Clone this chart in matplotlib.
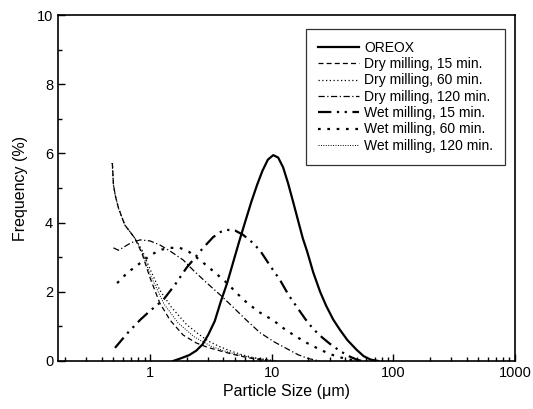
import matplotlib
matplotlib.use('Agg')
import matplotlib.pyplot as plt
from matplotlib.ticker import LogLocator, MultipleLocator, FixedLocator

plt.rcParams['font.family'] = ['Liberation Sans', 'DejaVu Sans']

# values (size in um, frequency in %)
oreox_x = [1.55, 1.8, 2.1, 2.4, 2.7, 3.0, 3.4, 3.8, 4.3, 4.8, 5.4, 6.0, 6.8, 7.6, 8.4, 9.3, 10.3,
           11.3, 12.4, 13.6, 15.0, 16.5, 18.0, 19.5, 22.0, 25.0, 28.0, 32.0, 36.4, 42.0, 50.0, 57.0, 65.0, 75.0]
oreox_y = [0.0, 0.08, 0.17, 0.30, 0.48, 0.75, 1.15, 1.70, 2.25, 2.83, 3.45, 3.98, 4.60, 5.10, 5.50, 5.82, 5.95,
           5.88, 5.60, 5.15, 4.60, 4.05, 3.55, 3.18, 2.55, 2.00, 1.60, 1.20, 0.90, 0.60, 0.32, 0.14, 0.04, 0.0]

dry15_x = [0.49, 0.5, 0.52, 0.55, 0.62, 0.75, 0.86, 1.0, 1.2, 1.46, 1.87, 2.4, 2.94, 3.7, 4.5, 5.4, 6.3, 7.5, 9.0]
dry15_y = [5.72, 5.09, 4.75, 4.42, 3.93, 3.55, 3.10, 2.40, 1.68, 1.18, 0.75, 0.52, 0.40, 0.30, 0.22, 0.15, 0.10, 0.05, 0.01]

dry60_x = [0.49, 0.5, 0.52, 0.55, 0.62, 0.75, 0.86, 1.0, 1.2, 1.5, 2.0, 2.5, 3.0, 3.7, 4.5, 5.6, 7.0, 8.5, 10.0]
dry60_y = [5.72, 5.09, 4.75, 4.42, 3.93, 3.55, 3.20, 2.65, 2.05, 1.55, 1.05, 0.78, 0.58, 0.42, 0.30, 0.19, 0.10, 0.05, 0.01]

dry120_x = [0.5, 0.55, 0.6, 0.7, 0.83, 1.0, 1.21, 1.5, 1.87, 2.3, 2.94, 3.8, 4.8, 6.2, 8.0, 10.5, 13.4, 16.5, 20.0, 25.0]
dry120_y = [3.27, 3.20, 3.28, 3.42, 3.50, 3.47, 3.35, 3.15, 2.92, 2.60, 2.25, 1.90, 1.56, 1.18, 0.82, 0.55, 0.35, 0.18, 0.07, 0.0]

wet15_x = [0.515, 0.65, 0.83, 1.0, 1.28, 1.6, 2.0, 2.26, 2.7, 3.3, 3.8, 4.3, 5.0, 5.8, 6.8, 8.0, 9.5,
           11.7, 13.8, 16.1, 19.0, 22.0, 26.0, 30.0, 36.0, 43.0, 50.0, 55.0]
wet15_y = [0.38, 0.80, 1.19, 1.45, 1.76, 2.20, 2.70, 2.92, 3.25, 3.58, 3.73, 3.79, 3.77, 3.65, 3.45, 3.20, 2.80,
           2.34, 1.90, 1.56, 1.20, 0.92, 0.68, 0.50, 0.30, 0.14, 0.04, 0.0]

wet60_x = [0.536, 0.65, 0.83, 1.0, 1.21, 1.45, 1.76, 2.1, 2.57, 3.3, 4.3, 5.2, 6.27, 8.0, 10.25, 13.0, 16.0,
           19.5, 24.0, 30.0, 37.0, 44.0, 50.0]
wet60_y = [2.25, 2.55, 2.83, 3.05, 3.21, 3.27, 3.27, 3.15, 2.92, 2.60, 2.25, 1.95, 1.68, 1.40, 1.18, 0.90, 0.70,
           0.52, 0.36, 0.20, 0.10, 0.04, 0.0]

wet120_x = [0.487, 0.5, 0.52, 0.55, 0.62, 0.75, 0.86, 1.0, 1.3, 1.7, 2.3, 3.2, 4.0, 5.0, 6.5, 8.0, 11.0]
wet120_y = [5.72, 5.09, 4.75, 4.42, 3.93, 3.55, 3.15, 2.50, 1.65, 1.10, 0.70, 0.42, 0.30, 0.20, 0.11, 0.06, 0.01]

fig = plt.figure(figsize=(5.33, 4.09), dpi=100)
ax = fig.add_axes([0.1088, 0.1174, 0.8574, 0.8459])

ax.plot(oreox_x, oreox_y, color='black', lw=1.6, ls='-', label='OREOX')
ax.plot(dry15_x, dry15_y, color='black', lw=0.9, ls=(0, (4, 2.5)), label='Dry milling, 15 min.')
ax.plot(dry60_x, dry60_y, color='black', lw=0.9, ls=(0, (1, 2)), label='Dry milling, 60 min.')
ax.plot(dry120_x, dry120_y, color='black', lw=0.9, ls=(0, (5, 2, 1, 2)), label='Dry milling, 120 min.')
ax.plot(wet15_x, wet15_y, color='black', lw=1.6, ls=(0, (6, 2.5, 1, 2.5, 1, 2.5)), label='Wet milling, 15 min.')
ax.plot(wet60_x, wet60_y, color='black', lw=1.6, ls=(0, (1.2, 3)), label='Wet milling, 60 min.')
ax.plot(wet120_x, wet120_y, color='black', lw=0.7, ls=(0, (1, 1.5)), label='Wet milling, 120 min.')

ax.set_xscale('log')
ax.set_xlim(0.175, 1000)
ax.set_ylim(0, 10)
ax.xaxis.set_major_locator(FixedLocator([1, 10, 100, 1000]))
ax.set_xticklabels(['1', '10', '100', '1000'])
ax.xaxis.set_minor_locator(LogLocator(base=10, subs=range(2, 10)))
ax.yaxis.set_major_locator(MultipleLocator(2))
ax.yaxis.set_minor_locator(MultipleLocator(1))
ax.tick_params(which='both', direction='in', labelsize=10.5, width=1)
ax.tick_params(which='major', length=5)
ax.tick_params(which='minor', length=3)
for s in ax.spines.values():
    s.set_linewidth(1.2)

ax.set_xlabel('Particle Size (\u03bcm)', fontsize=11.5, labelpad=3)
ax.set_ylabel('Frequency (%)', fontsize=11.5, labelpad=6)

leg = ax.legend(loc='upper right', bbox_to_anchor=(0.978, 0.96), borderaxespad=0, fontsize=10,
                frameon=True, fancybox=False, edgecolor='black', handlelength=2.9,
                handletextpad=0.4, labelspacing=0.17, borderpad=0.85)
leg.get_frame().set_linewidth(0.9)

fig.savefig('out.png', dpi=100)
